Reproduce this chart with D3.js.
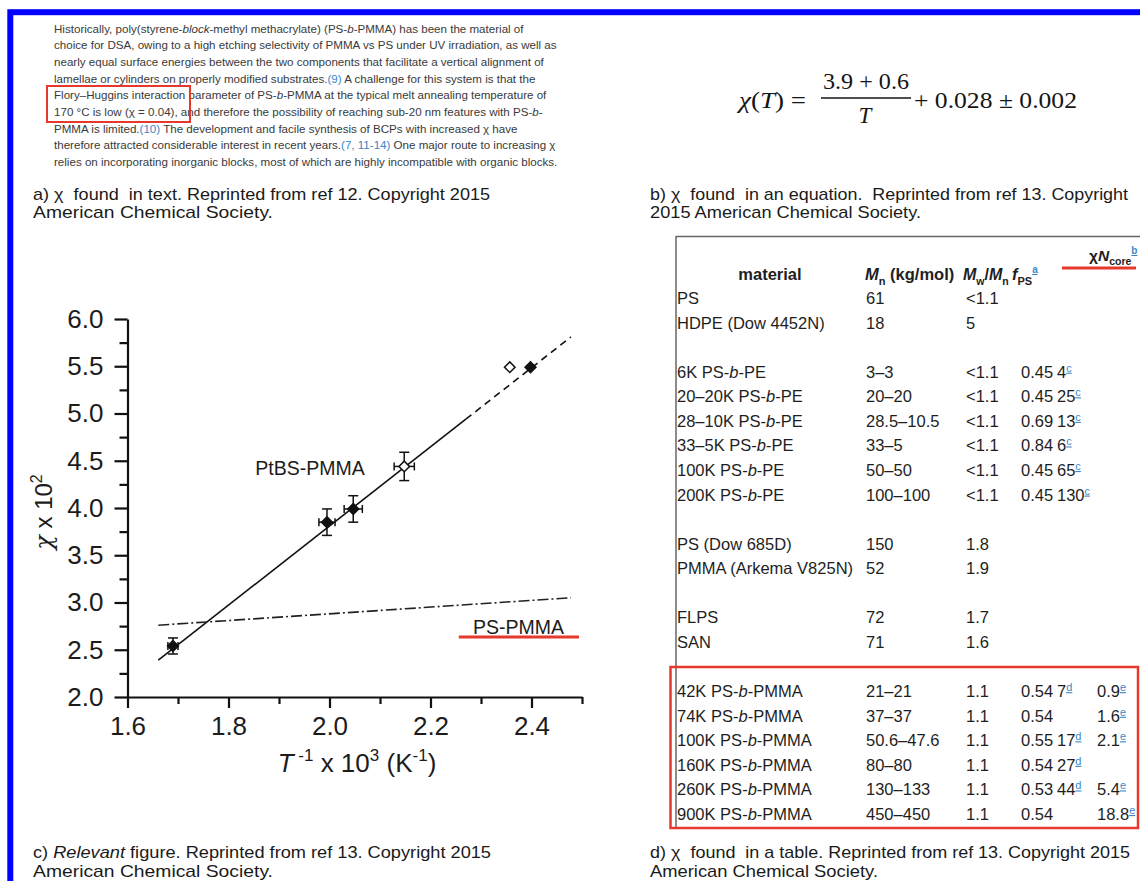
<!DOCTYPE html>
<html><head><meta charset="utf-8">
<script src="https://cdn.jsdelivr.net/npm/d3@7"></script>
<style>
html,body{margin:0;padding:0;background:#fff;}
svg{display:block;}
text{white-space:pre;}
</style></head><body>
<svg id="c" width="1140" height="881"></svg>
<script>
// ---------------- DATA ----------------
// panel a paragraph: segments [text, style] ; style: "" normal, "i" italic, "l" link
const paragraph = [
  [["Historically, poly(styrene-",""],["block","i"],["-methyl methacrylate) (PS-",""],["b","i"],["-PMMA) has been the material of",""]],
  [["choice for DSA, owing to a high etching selectivity of PMMA vs PS under UV irradiation, as well as",""]],
  [["nearly equal surface energies between the two components that facilitate a vertical alignment of",""]],
  [["lamellae or cylinders on properly modified substrates.",""],["(9)","l"],[" A challenge for this system is that the",""]],
  [["Flory\u2013Huggins interaction parameter of PS-",""],["b","i"],["-PMMA at the typical melt annealing temperature of",""]],
  [["170 \u00B0C is low (\u03C7 = 0.04), and therefore the possibility of reaching sub-20 nm features with PS-",""],["b","i"],["-",""]],
  [["PMMA is limited.",""],["(10)","l"],[" The development and facile synthesis of BCPs with increased \u03C7 have",""]],
  [["therefore attracted considerable interest in recent years.",""],["(7, 11-14)","l"],[" One major route to increasing \u03C7",""]],
  [["relies on incorporating inorganic blocks, most of which are highly incompatible with organic blocks.",""]]
];

// panel c chart values (chi x 10^2 vs 1000/T)
const xTicks = [1.6, 1.8, 2.0, 2.2, 2.4];
const xMinorTicks = [1.7, 1.9, 2.1, 2.3, 2.5];
const yTicks = [2.0, 2.5, 3.0, 3.5, 4.0, 4.5, 5.0, 5.5, 6.0];
const yMinorTicks = [2.25, 2.75, 3.25, 3.75, 4.25, 4.75, 5.25, 5.75];
const filledPoints = [
  {x: 1.690, y: 2.54, ex: 0.010, ey: 0.085},
  {x: 1.995, y: 3.85, ex: 0.016, ey: 0.14},
  {x: 2.047, y: 3.99, ex: 0.018, ey: 0.14},
  {x: 2.398, y: 5.49, ex: 0, ey: 0}
];
const openPoints = [
  {x: 2.148, y: 4.44, ex: 0.020, ey: 0.15},
  {x: 2.357, y: 5.49, ex: 0, ey: 0}
];
const fitSolid = [[1.661, 2.39], [2.270, 4.94]];
const fitDashed = [[2.270, 4.94], [2.478, 5.81]];
const psPmmaLine = [[1.661, 2.76], [2.478, 3.05]];

// panel d table
const tableRows = [
  {i: 0,  material: "PS", mn: "61", pdi: "<1.1"},
  {i: 1,  material: "HDPE (Dow 4452N)", mn: "18", pdi: "5"},
  {i: 3,  material: "6K PS-b-PE", mn: "3\u20133", pdi: "<1.1", f: "0.45", n: "4", nNote: "c"},
  {i: 4,  material: "20\u201320K PS-b-PE", mn: "20\u201320", pdi: "<1.1", f: "0.45", n: "25", nNote: "c"},
  {i: 5,  material: "28\u201310K PS-b-PE", mn: "28.5\u201310.5", pdi: "<1.1", f: "0.69", n: "13", nNote: "c"},
  {i: 6,  material: "33\u20135K PS-b-PE", mn: "33\u20135", pdi: "<1.1", f: "0.84", n: "6", nNote: "c"},
  {i: 7,  material: "100K PS-b-PE", mn: "50\u201350", pdi: "<1.1", f: "0.45", n: "65", nNote: "c"},
  {i: 8,  material: "200K PS-b-PE", mn: "100\u2013100", pdi: "<1.1", f: "0.45", n: "130", nNote: "c"},
  {i: 10, material: "PS (Dow 685D)", mn: "150", pdi: "1.8"},
  {i: 11, material: "PMMA (Arkema V825N)", mn: "52", pdi: "1.9"},
  {i: 13, material: "FLPS", mn: "72", pdi: "1.7"},
  {i: 14, material: "SAN", mn: "71", pdi: "1.6"},
  {i: 16, material: "42K PS-b-PMMA", mn: "21\u201321", pdi: "1.1", f: "0.54", n: "7", nNote: "d", chiN: "0.9", chiNote: "e"},
  {i: 17, material: "74K PS-b-PMMA", mn: "37\u201337", pdi: "1.1", f: "0.54", chiN: "1.6", chiNote: "e"},
  {i: 18, material: "100K PS-b-PMMA", mn: "50.6\u201347.6", pdi: "1.1", f: "0.55", n: "17", nNote: "d", chiN: "2.1", chiNote: "e"},
  {i: 19, material: "160K PS-b-PMMA", mn: "80\u201380", pdi: "1.1", f: "0.54", n: "27", nNote: "d"},
  {i: 20, material: "260K PS-b-PMMA", mn: "130\u2013133", pdi: "1.1", f: "0.53", n: "44", nNote: "d", chiN: "5.4", chiNote: "e"},
  {i: 21, material: "900K PS-b-PMMA", mn: "450\u2013450", pdi: "1.1", f: "0.54", chiN: "18.8", chiNote: "e"}
];

// captions
const captions = [
  {x: 33, y: 200, w: 457, parts: [["a) \u03C7  found  in text. Reprinted from ref 12. Copyright 2015",""]]},
  {x: 33, y: 218, w: 240, parts: [["American Chemical Society.",""]]},
  {x: 650, y: 200, w: 478, parts: [["b) \u03C7  found  in an equation.  Reprinted from ref 13. Copyright",""]]},
  {x: 650, y: 218, w: 271, parts: [["2015 American Chemical Society.",""]]},
  {x: 33, y: 858, w: 458, parts: [["c) ",""],["Relevant","i"],[" figure. Reprinted from ref 13. Copyright 2015",""]]},
  {x: 33, y: 877, w: 240, parts: [["American Chemical Society.",""]]},
  {x: 650, y: 858, w: 480, parts: [["d) \u03C7  found  in a table. Reprinted from ref 13. Copyright 2015",""]]},
  {x: 650, y: 877, w: 228, parts: [["American Chemical Society.",""]]}
];

// ---------------- DRAW ----------------
const svg = d3.select("#c");
svg.append("rect").attr("width", 1140).attr("height", 881).attr("fill", "#fff");
const LINK = "#3d86c6";
const RED = "#e5392b";
const SANS = "'Liberation Sans', Arial, Helvetica, sans-serif";

// ---- panel a ----
const paraY = d3.scaleLinear().domain([0, paragraph.length - 1]).range([32.8, 165.8]);
const paraG = svg.append("g").attr("font-family", SANS).attr("fill", "#3a3a3a").attr("font-size", 10.4);
const paraTexts = paraG.selectAll("text").data(paragraph).join("text")
  .attr("x", 54).attr("y", (d, i) => paraY(i));
paraTexts.each(function (segs) {
  const t = d3.select(this);
  segs.forEach(s => {
    const ts = t.append("tspan").text(s[0]);
    if (s[1] === "i") ts.attr("font-style", "italic");
    if (s[1] === "l") ts.attr("fill", LINK);
  });
});
// fit font size to width of the second line
{
  const w = paraTexts.nodes()[1].getComputedTextLength();
  const fs = 10.4 * 503 / w;
  paraG.attr("font-size", fs);
}
svg.append("rect").attr("x", 47).attr("y", 86).attr("width", 143).attr("height", 36)
  .attr("fill", "none").attr("stroke", RED).attr("stroke-width", 2);

// ---- panel b: equation ----
const eq = svg.append("g").attr("font-family", "'Liberation Serif', 'DejaVu Serif', serif").attr("fill", "#151515").attr("font-size", 23);
{
  const t1 = eq.append("text").attr("x", 739).attr("y", 108).attr("textLength", 67).attr("lengthAdjust", "spacingAndGlyphs");
  t1.append("tspan").attr("font-style", "italic").text("\u03C7");
  t1.append("tspan").text("(");
  t1.append("tspan").attr("font-style", "italic").text("T");
  t1.append("tspan").text(") =");
  eq.append("text").attr("x", 823).attr("y", 89).attr("textLength", 86).attr("lengthAdjust", "spacingAndGlyphs").text("3.9 + 0.6");
  eq.append("line").attr("x1", 821).attr("x2", 911).attr("y1", 98).attr("y2", 98).attr("stroke", "#151515").attr("stroke-width", 1.4);
  eq.append("text").attr("x", 865).attr("y", 123).attr("text-anchor", "middle").attr("font-style", "italic").text("T");
  eq.append("text").attr("x", 914).attr("y", 108).attr("textLength", 163).attr("lengthAdjust", "spacingAndGlyphs").text("+ 0.028 \u00B1 0.002");
}

// ---- captions ----
const capG = svg.append("g").attr("font-family", "'Liberation Sans Narrow', 'Arial Narrow', " + SANS).attr("font-size", 17).attr("fill", "#1a1a1a");
captions.forEach(c => {
  const t = capG.append("text").attr("x", c.x).attr("y", c.y).attr("textLength", c.w).attr("lengthAdjust", "spacingAndGlyphs");
  c.parts.forEach(p => {
    const ts = t.append("tspan").text(p[0]);
    if (p[1] === "i") ts.attr("font-style", "italic");
  });
});

// ---- panel c: chart ----
const x = d3.scaleLinear().domain([1.6, 2.5]).range([127.5, 582]);
const y = d3.scaleLinear().domain([2, 6]).range([697, 319]);
const chart = svg.append("g");
const AX = 2.2;

const yAxis = chart.append("g").attr("transform", `translate(${x(1.6)},0)`)
  .call(d3.axisLeft(y).tickValues(yTicks).tickSize(13).tickSizeOuter(0).tickPadding(11).tickFormat(d3.format(".1f")));
const yMinor = chart.append("g").attr("transform", `translate(${x(1.6)},0)`)
  .call(d3.axisLeft(y).tickValues(yMinorTicks).tickSize(8).tickSizeOuter(0).tickFormat(""));
const xAxis = chart.append("g").attr("transform", `translate(0,${y(2)})`)
  .call(d3.axisBottom(x).tickValues(xTicks).tickSize(11).tickSizeOuter(0).tickPadding(9).tickFormat(d3.format(".1f")));
const xMinor = chart.append("g").attr("transform", `translate(0,${y(2)})`)
  .call(d3.axisBottom(x).tickValues(xMinorTicks).tickSize(7).tickSizeOuter(0).tickFormat(""));
[yAxis, yMinor, xAxis, xMinor].forEach(g => {
  g.selectAll("path, line").attr("stroke", "#111").attr("stroke-width", AX);
  g.selectAll("text").attr("font-family", SANS).attr("font-size", 26).attr("fill", "#1c1c1c");
});
yMinor.select("path").remove();
xMinor.select("path").remove();

// axis titles
{
  const yt = chart.append("text").attr("transform", "translate(52,512) rotate(-90)")
    .attr("text-anchor", "middle").attr("font-family", SANS).attr("font-size", 24).attr("fill", "#1c1c1c");
  yt.append("tspan").attr("font-family", "'DejaVu Serif', serif").attr("font-style", "italic").text("\u03C7");
  yt.append("tspan").text(" x 10");
  yt.append("tspan").attr("font-size", 16).attr("dy", -10).text("2");
  const xt = chart.append("text").attr("x", 357).attr("y", 772)
    .attr("text-anchor", "middle").attr("font-family", SANS).attr("font-size", 26).attr("fill", "#1c1c1c");
  xt.append("tspan").attr("font-style", "italic").text("T");
  xt.append("tspan").attr("font-size", 17).attr("dy", -11).text(" -1");
  xt.append("tspan").attr("dy", 11).text(" x 10");
  xt.append("tspan").attr("font-size", 17).attr("dy", -11).text("3");
  xt.append("tspan").attr("dy", 11).text(" (K");
  xt.append("tspan").attr("font-size", 17).attr("dy", -11).text("-1");
  xt.append("tspan").attr("dy", 11).text(")");
}

// lines
const lineGen = d3.line().x(d => x(d[0])).y(d => y(d[1]));
chart.append("path").attr("d", lineGen(fitSolid)).attr("fill", "none").attr("stroke", "#111").attr("stroke-width", 1.6);
chart.append("path").attr("d", lineGen(fitDashed)).attr("fill", "none").attr("stroke", "#111").attr("stroke-width", 1.6).attr("stroke-dasharray", "7,5");
chart.append("path").attr("d", lineGen(psPmmaLine)).attr("fill", "none").attr("stroke", "#222").attr("stroke-width", 1.6).attr("stroke-dasharray", "11,3,2,3");

// error bars
function errorBars(data) {
  const g = chart.append("g").attr("stroke", "#111").attr("stroke-width", 1.5);
  data.filter(d => d.ey > 0).forEach(d => {
    const cx = x(d.x);
    const y1 = y(d.y + d.ey), y2 = y(d.y - d.ey);
    g.append("line").attr("x1", cx).attr("x2", cx).attr("y1", y1).attr("y2", y2);
    g.append("line").attr("x1", cx - 5).attr("x2", cx + 5).attr("y1", y1).attr("y2", y1);
    g.append("line").attr("x1", cx - 5).attr("x2", cx + 5).attr("y1", y2).attr("y2", y2);
  });
  data.filter(d => d.ex > 0).forEach(d => {
    const cy = y(d.y);
    const x1 = x(d.x - d.ex), x2 = x(d.x + d.ex);
    g.append("line").attr("x1", x1).attr("x2", x2).attr("y1", cy).attr("y2", cy);
    g.append("line").attr("x1", x1).attr("x2", x1).attr("y1", cy - 4).attr("y2", cy + 4);
    g.append("line").attr("x1", x2).attr("x2", x2).attr("y1", cy - 4).attr("y2", cy + 4);
  });
}
errorBars(filledPoints);
errorBars(openPoints);
chart.append("g").selectAll("path").data(filledPoints).join("path")
  .attr("transform", d => `translate(${x(d.x)},${y(d.y)}) rotate(45)`)
  .attr("d", d3.symbol().type(d3.symbolSquare).size(85)).attr("fill", "#111");
chart.append("g").selectAll("path").data(openPoints).join("path")
  .attr("transform", d => `translate(${x(d.x)},${y(d.y)}) rotate(45)`).attr("d", d3.symbol().type(d3.symbolSquare).size(56))
  .attr("fill", "#fff").attr("stroke", "#111").attr("stroke-width", 1.5);

// labels
chart.append("text").attr("x", x(1.853)).attr("y", y(4.42) + 7).attr("font-family", SANS).attr("font-size", 19.5).attr("fill", "#1c1c1c").text("PtBS-PMMA");
chart.append("text").attr("x", x(2.284)).attr("y", y(2.74) + 7).attr("font-family", SANS).attr("font-size", 19.5).attr("fill", "#1c1c1c").text("PS-PMMA");
chart.append("line").attr("x1", x(2.256)).attr("x2", x(2.494)).attr("y1", y(2.635)).attr("y2", y(2.635)).attr("stroke", RED).attr("stroke-width", 3);

// ---- panel d: table ----
const tab = svg.append("g").attr("font-family", SANS).attr("font-size", 16.5).attr("fill", "#1e1e1e");
const rowY = d3.scaleLinear().domain([0, 21]).range([304, 820]);
const col = {mat: 677, mn: 866, pdi: 966, f: 1021, n: 1057, chi: 1097};
// borders
tab.append("line").attr("x1", 676).attr("x2", 676).attr("y1", 236).attr("y2", 828).attr("stroke", "#666").attr("stroke-width", 1.5);
tab.append("line").attr("x1", 676).attr("x2", 1140).attr("y1", 236.5).attr("y2", 236.5).attr("stroke", "#666").attr("stroke-width", 1.5);

function note(t, letter) {
  t.append("tspan").attr("font-size", 11).attr("dy", -6).attr("fill", LINK).attr("text-decoration", "underline").text(letter);
}
// header
{
  const hy = 280;
  tab.append("text").attr("x", 770).attr("y", hy).attr("text-anchor", "middle").attr("font-weight", "bold").text("material");
  const h1 = tab.append("text").attr("x", 865).attr("y", hy).attr("font-weight", "bold");
  h1.append("tspan").attr("font-style", "italic").text("M");
  h1.append("tspan").attr("font-size", 11).attr("dy", 5).text("n");
  h1.append("tspan").attr("dy", -5).text(" (kg/mol)");
  const h2 = tab.append("text").attr("x", 963).attr("y", hy).attr("font-weight", "bold").attr("font-size", 16);
  h2.append("tspan").attr("font-style", "italic").text("M");
  h2.append("tspan").attr("font-size", 10.5).attr("dy", 5).text("w");
  h2.append("tspan").attr("dy", -5).text("/");
  h2.append("tspan").attr("font-style", "italic").text("M");
  h2.append("tspan").attr("font-size", 10.5).attr("dy", 5).text("n");
  const h3 = tab.append("text").attr("x", 1012).attr("y", hy).attr("font-weight", "bold");
  h3.append("tspan").attr("font-style", "italic").text("f");
  h3.append("tspan").attr("font-size", 11).attr("dy", 5).text("PS");
  h3.append("tspan").attr("font-size", 10).attr("dy", -12).attr("fill", LINK).attr("text-decoration", "underline").text("a");
  const h4 = tab.append("text").attr("x", 1089).attr("y", 261).attr("font-weight", "bold").attr("font-size", 15.5);
  h4.append("tspan").text("\u03C7");
  h4.append("tspan").attr("font-style", "italic").text("N");
  h4.append("tspan").attr("font-size", 10.5).attr("dy", 4).text("core");
  h4.append("tspan").attr("font-size", 10).attr("dy", -11).attr("fill", LINK).attr("text-decoration", "underline").text("b");
  tab.append("line").attr("x1", 1062).attr("x2", 1136).attr("y1", 268).attr("y2", 268).attr("stroke", RED).attr("stroke-width", 3);
}
// rows
tableRows.forEach(r => {
  const yy = rowY(r.i);
  const m = tab.append("text").attr("x", col.mat).attr("y", yy);
  const parts = r.material.split("-b-");
  if (parts.length === 2) {
    m.append("tspan").text(parts[0] + "-");
    m.append("tspan").attr("font-style", "italic").text("b");
    m.append("tspan").text("-" + parts[1]);
  } else m.text(r.material);
  tab.append("text").attr("x", col.mn).attr("y", yy).text(r.mn);
  tab.append("text").attr("x", col.pdi).attr("y", yy).text(r.pdi);
  if (r.f) tab.append("text").attr("x", col.f).attr("y", yy).text(r.f);
  if (r.n) {
    const t = tab.append("text").attr("x", col.n).attr("y", yy).text(r.n);
    note(t, r.nNote);
  }
  if (r.chiN) {
    const t = tab.append("text").attr("x", col.chi).attr("y", yy).text(r.chiN);
    note(t, r.chiNote);
  }
});
// red highlight box
svg.append("rect").attr("x", 670.5).attr("y", 667).attr("width", 467.5).attr("height", 161)
  .attr("fill", "none").attr("stroke", RED).attr("stroke-width", 2.5);

// ---- blue frame (left and top edges visible) ----
svg.append("rect").attr("x", 10.3).attr("y", 12.2).attr("width", 1200).attr("height", 900)
  .attr("fill", "none").attr("stroke", "#0000ff").attr("stroke-width", 6);
</script>
</body></html>
